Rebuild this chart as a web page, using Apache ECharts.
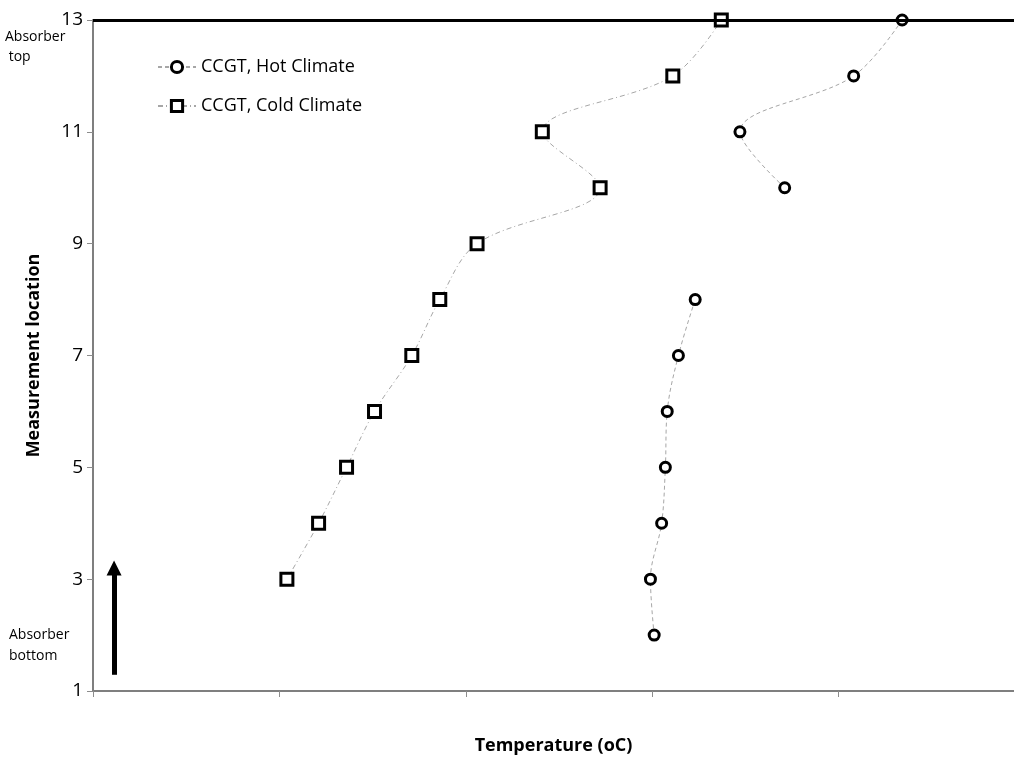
<!DOCTYPE html>
<html>
<head>
<meta charset="utf-8">
<script src="https://cdn.jsdelivr.net/npm/echarts@6/dist/echarts.min.js"></script>
<style>
    html, body { margin: 0; padding: 0; background: #fff; }
    #chart { width: 1014px; height: 762px; }
</style>
</head>
<body>
<div id="chart"></div>
<script>
// 数据（温度为无单位相对刻度，原图没有刻度标签）
const hotLocation = [2, 3, 4, 5, 6, 7, 8, 9, 10, 11, 12, 13];
const hotTemp = [3.01, 2.99, 3.05, 3.07, 3.08, 3.14, 3.23, null, 3.71, 3.47, 4.08, 4.34];
const coldLocation = [3, 4, 5, 6, 7, 8, 9, 10, 11, 12, 13];
const coldTemp = [1.04, 1.21, 1.36, 1.51, 1.71, 1.86, 2.06, 2.72, 2.41, 3.11, 3.37];
const yTicks = [1, 3, 5, 7, 9, 11, 13];

// 箭头（吸收塔底部 -> 顶部）
const arrowStart = [0.113, 1.29];
const arrowEnd = [0.113, 3.2];

function pairs(xs, ys) {
    return ys.map((y, i) => [xs[i], y]);
}

document.addEventListener('DOMContentLoaded', () => {
    initChart();
});

function initChart() {
    const myChart = echarts.init(document.getElementById('chart'));
    const font = 'Open Sans';
    const option = {
        animation: false,
        textStyle: { fontFamily: font, color: '#000' },
        grid: { left: 93, right: 0, top: 20, bottom: 71 },
        legend: {
            orient: 'vertical',
            left: 152,
            top: 53,
            itemWidth: 38,
            itemHeight: 14,
            itemGap: 21,
            itemStyle: { color: '#fff', borderColor: '#000', borderWidth: 3 },
            textStyle: { fontSize: 18, color: '#000', fontFamily: font },
            data: ['CCGT, Hot Climate', 'CCGT, Cold Climate']
        },
        xAxis: {
            type: 'value',
            min: 0,
            max: 4.94,
            interval: 1,
            name: 'Temperature (oC)',
            nameLocation: 'middle',
            nameGap: 46,
            nameTextStyle: { fontSize: 18, fontWeight: 'bold', color: '#000' },
            axisLine: { lineStyle: { color: '#7f7f7f', width: 2 } },
            axisTick: { length: 6, lineStyle: { color: '#8c8c8c' } },
            axisLabel: { show: false },
            splitLine: { show: false }
        },
        yAxis: {
            type: 'value',
            min: 1,
            max: 13,
            interval: 2,
            name: 'Measurement location',
            nameLocation: 'middle',
            nameGap: 50,
            nameTextStyle: { fontSize: 18, fontWeight: 'bold', color: '#000' },
            axisLine: { show: true, lineStyle: { color: '#7f7f7f', width: 2 } },
            axisTick: { show: true, length: 6, lineStyle: { color: '#8c8c8c' } },
            axisLabel: {
                fontSize: 19,
                color: '#000',
                margin: 10,
                formatter: v => (yTicks.includes(v) ? String(v) : '')
            },
            splitLine: { show: false }
        },
        graphic: [
            { type: 'text', left: 5, top: 27, style: { text: 'Absorber\n top', font: '14px "Open Sans"', fill: '#000', lineHeight: 20 } },
            { type: 'text', left: 9, top: 625, style: { text: 'Absorber\nbottom', font: '14px "Open Sans"', fill: '#000', lineHeight: 21 } }
        ],
        series: [
            {
                name: 'CCGT, Hot Climate',
                type: 'line',
                data: pairs(hotTemp, hotLocation),
                smooth: 0.35,
                symbol: 'circle',
                symbolSize: 10,
                showAllSymbol: true,
                lineStyle: { color: '#a6a6a6', width: 1, type: [4, 3] },
                itemStyle: { color: '#fff', borderColor: '#000', borderWidth: 3 },
                markLine: {
                    silent: true,
                    symbol: ['none', 'none'],
                    label: { show: false },
                    lineStyle: { color: '#000', width: 3, type: 'solid' },
                    data: [{ yAxis: 13 }]
                },
                z: 3
            },
            {
                name: 'CCGT, Cold Climate',
                type: 'line',
                data: pairs(coldTemp, coldLocation),
                smooth: 0.35,
                symbol: 'rect',
                symbolSize: 12,
                showAllSymbol: true,
                lineStyle: { color: '#a6a6a6', width: 1, type: [5, 3, 1, 3] },
                itemStyle: { color: '#fff', borderColor: '#000', borderWidth: 3 },
                markLine: {
                    silent: true,
                    symbol: ['none', 'triangle'],
                    symbolSize: 15,
                    label: { show: false },
                    itemStyle: { color: '#000' },
                    lineStyle: { color: '#000', width: 5, type: 'solid' },
                    data: [[{ coord: arrowStart }, { coord: arrowEnd }]]
                },
                z: 3
            }
        ]
    };
    myChart.setOption(option);
}
</script>
</body>
</html>
